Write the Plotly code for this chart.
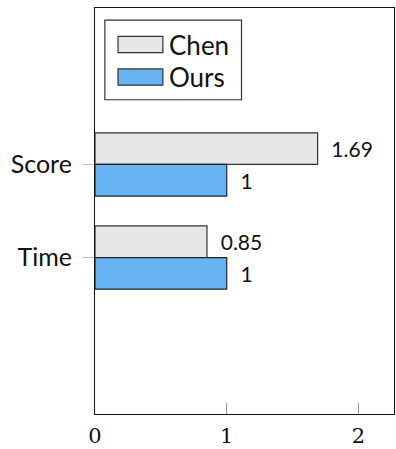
import plotly.graph_objects as go

categories = ["Time", "Score"]
chen_values = [0.85, 1.69]
ours_values = [1, 1]
chen_labels = ["0.85", "1.69"]
ours_labels = ["1", "1"]
x_ticks = [0, 1, 2]

fig = go.Figure()
fig.add_trace(go.Bar(
    y=categories, x=chen_values, orientation="h", name="Chen",
    width=0.34, offset=0,
    marker=dict(color="#e6e6e6", line=dict(color="#333333", width=1.2)),
    text=chen_labels, texttemplate="  %{text}", textposition="outside", cliponaxis=False,
    textfont=dict(family="Lato", size=21, color="#111111"),
    showlegend=False,
))
fig.add_trace(go.Bar(
    y=categories, x=ours_values, orientation="h", name="Ours",
    width=0.34, offset=-0.34,
    marker=dict(color="#67b3f2", line=dict(color="#222222", width=1.2)),
    text=ours_labels, texttemplate="  %{text}", textposition="outside", cliponaxis=False,
    textfont=dict(family="Lato", size=21, color="#111111"),
    showlegend=False,
))

# manual legend
fig.add_shape(type="rect", xref="paper", yref="paper",
              x0=0.033, x1=0.49, y0=0.774, y1=0.97,
              line=dict(color="#333333", width=1.2), fillcolor="white")
legend_items = [("Chen", "#e6e6e6", 0.91), ("Ours", "#67b3f2", 0.83)]
for name, col, yc in legend_items:
    fig.add_shape(type="rect", xref="paper", yref="paper",
                  x0=0.077, x1=0.227, y0=yc - 0.02, y1=yc + 0.02,
                  line=dict(color="#333333", width=1.2), fillcolor=col)
    fig.add_annotation(xref="paper", yref="paper", x=0.24, y=yc,
                       text=name, showarrow=False, xanchor="left", yanchor="middle",
                       font=dict(family="Lato", size=26, color="#111111"))

fig.update_layout(
    width=396, height=449,
    margin=dict(l=95, r=1, t=8, b=31),
    paper_bgcolor="white", plot_bgcolor="white",
    barmode="overlay",
    showlegend=False,
    xaxis=dict(range=[0, 2.27], tickvals=x_ticks, ticks="inside", ticklen=11,
               tickcolor="#999999", showgrid=False, zeroline=False,
               showline=True, linecolor="#111111", linewidth=1.2, mirror=True,
               ticklabelstandoff=3,
               tickfont=dict(family="DejaVu Serif", size=21, color="#111111")),
    yaxis=dict(type="category", categoryarray=categories, range=[-1.68, 2.68],
               ticks="outside", ticklen=11, tickcolor="#bbbbbb",
               showgrid=False, zeroline=False,
               showline=True, linecolor="#111111", linewidth=1.2, mirror=True,
               ticklabelstandoff=6,
               tickfont=dict(family="Lato", size=25, color="#111111")),
)

fig.write_html("out.html")
